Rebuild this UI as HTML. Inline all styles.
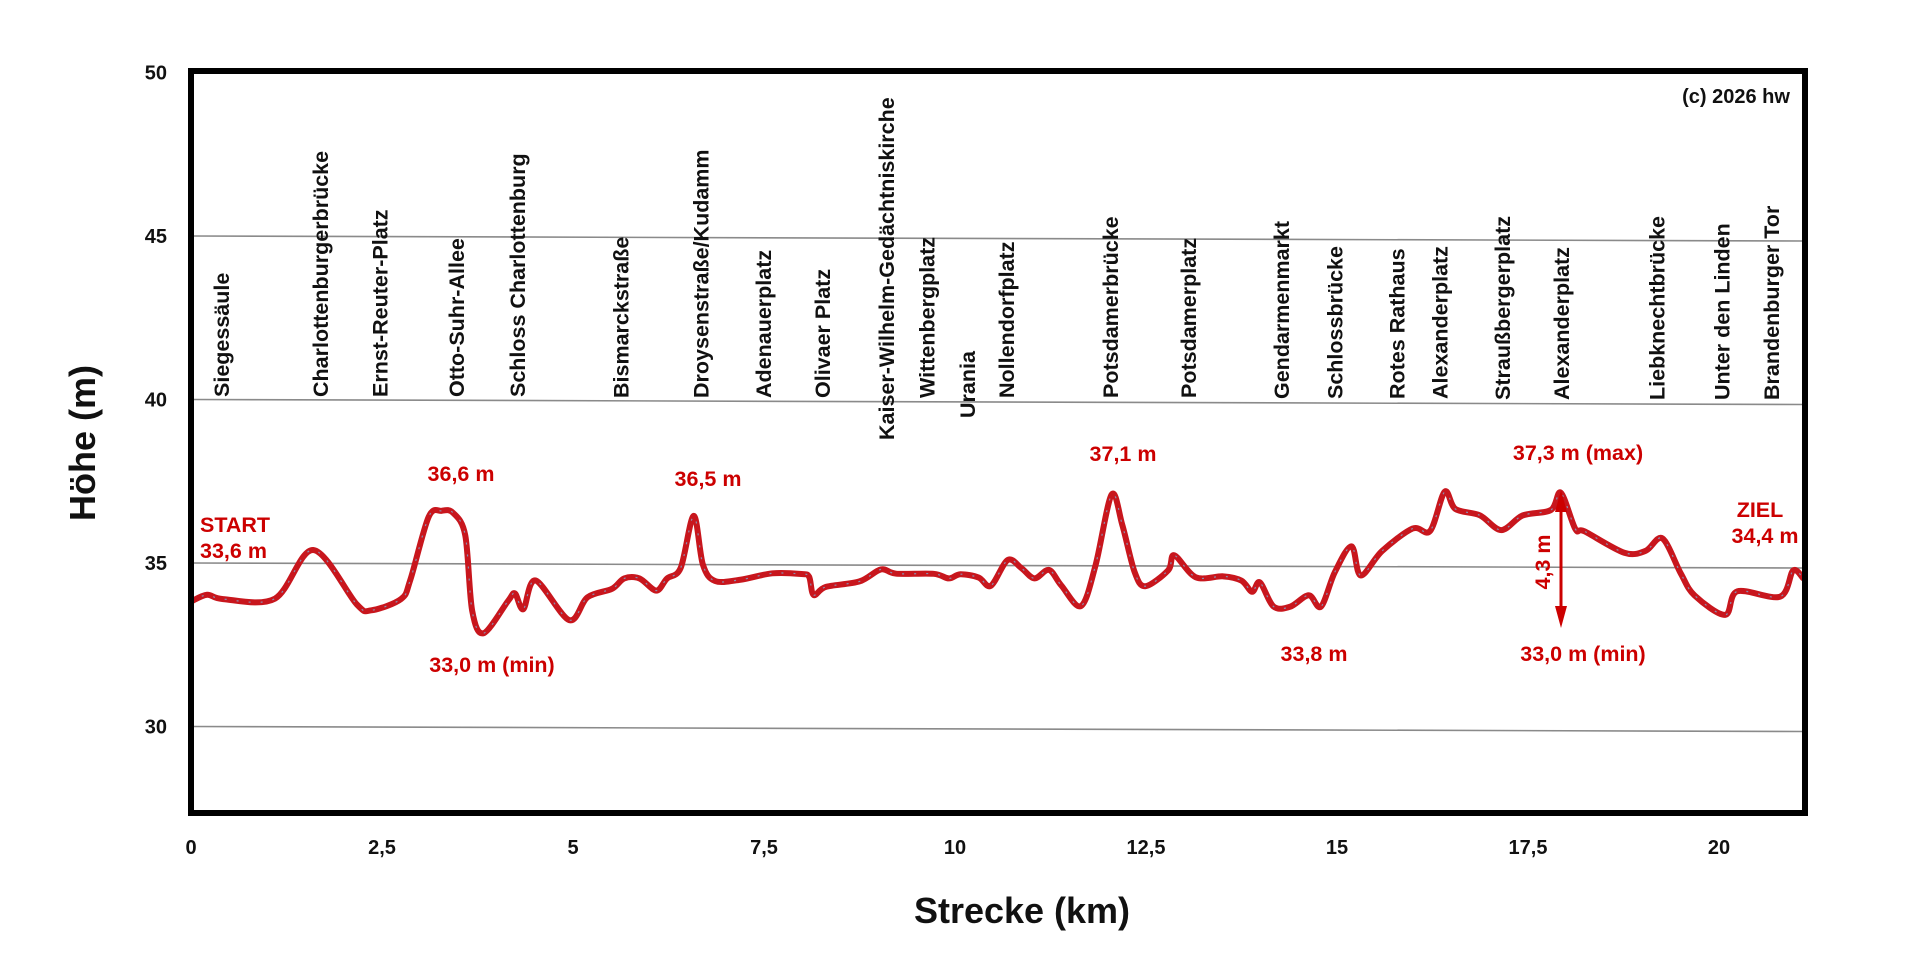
<!DOCTYPE html>
<html><head><meta charset="utf-8">
<style>
html,body{margin:0;padding:0;background:#fff;}
svg{display:block;}
text{font-family:"Liberation Sans",sans-serif;font-weight:bold;}
</style></head>
<body>
<svg id="chart" width="1920" height="975" viewBox="0 0 1920 975" xmlns="http://www.w3.org/2000/svg">
<rect x="0" y="0" width="1920" height="975" fill="#fff"/>
<g id="grid"></g>
<g id="stations"></g>
<g id="series"></g>
<g id="ann"></g>
<rect x="191" y="71" width="1614" height="742" fill="none" stroke="#000" stroke-width="6"/>
<g id="axes"></g>
<text x="1736" y="103" font-size="20" text-anchor="middle" fill="#111">(c) 2026 hw</text>
<text x="0" y="0" font-size="36" text-anchor="middle" fill="#111" transform="translate(95,443) rotate(-90)">Höhe (m)</text>
<text x="1022" y="923" font-size="36" text-anchor="middle" fill="#111">Strecke (km)</text>
</svg>
<script>
const distanceKm = [0,0.21,0.42,1.10,1.60,2.17,2.36,2.75,2.87,3.11,3.28,3.43,3.59,3.68,3.83,4.15,4.24,4.35,4.51,4.95,5.19,5.51,5.67,5.87,6.09,6.23,6.41,6.58,6.70,6.86,7.19,7.61,7.99,8.09,8.15,8.31,8.75,9.03,9.23,9.72,9.92,10.07,10.31,10.47,10.69,10.87,11.04,11.23,11.39,11.65,11.84,12.05,12.19,12.35,12.49,12.79,12.87,13.15,13.51,13.75,13.89,13.99,14.17,14.39,14.63,14.79,14.97,15.19,15.31,15.59,15.99,16.22,16.41,16.55,16.87,17.15,17.43,17.80,17.93,18.12,18.24,18.76,19.04,19.26,19.50,19.68,20.08,20.24,20.80,20.97,21.10];
const elevationM = [33.82,34.03,33.9,33.92,35.41,33.75,33.57,33.92,34.5,36.43,36.62,36.56,35.87,33.57,32.88,33.87,34.1,33.62,34.5,33.29,33.99,34.25,34.57,34.57,34.2,34.57,34.9,36.49,35.0,34.5,34.54,34.74,34.72,34.64,34.08,34.33,34.5,34.87,34.74,34.74,34.6,34.73,34.63,34.38,35.17,34.92,34.61,34.87,34.40,33.77,35.02,37.18,36.25,34.82,34.38,34.87,35.33,34.66,34.69,34.56,34.22,34.51,33.77,33.77,34.12,33.77,34.82,35.62,34.73,35.48,36.17,36.10,37.30,36.77,36.58,36.13,36.58,36.75,37.28,36.17,36.10,35.45,35.51,35.89,34.82,34.15,33.56,34.28,34.12,34.92,34.69];
const yTicks = [50,45,40,35,30];
const yGridValues = [45,40,35,30];
const xTicks = [0,2.5,5,7.5,10,12.5,15,17.5,20];
const xTickLabels = ["0","2,5","5","7,5","10","12,5","15","17,5","20"];
const stationNames = ["Siegessäule","Charlottenburgerbrücke","Ernst-Reuter-Platz","Otto-Suhr-Allee","Schloss Charlottenburg","Bismarckstraße","Droysenstraße/Kudamm","Adenauerplatz","Olivaer Platz","Kaiser-Wilhelm-Gedächtniskirche","Wittenbergplatz","Urania","Nollendorfplatz","Potsdamerbrücke","Potsdamerplatz","Gendarmenmarkt","Schlossbrücke","Rotes Rathaus","Alexanderplatz","Straußbergerplatz","Alexanderplatz","Liebknechtbrücke","Unter den Linden","Brandenburger Tor"];
const stationKm = [0.39,1.69,2.47,3.47,4.27,5.62,6.67,7.49,8.26,9.1,9.63,10.16,10.67,12.03,13.05,14.27,14.97,15.78,16.34,17.16,17.93,19.18,20.03,20.68];
const stationLabelBottom = [397,397,397,397,397,398,398,398,398,440,398,418,398,398,398,399,399,399,399,400,400,400,400,400];

const NS="http://www.w3.org/2000/svg";
const X0=191, PXKM=76.4, Y35=563, PXM=32.7, XR=1805;
function xs(km){return X0+km*PXKM;}
function slant(x){return (x-X0)/(XR-X0)*5;}
function ys(v,x){return Y35-(v-35)*PXM+slant(x);}
function mk(tag,attrs,parent){const e=document.createElementNS(NS,tag);for(const k in attrs)e.setAttribute(k,attrs[k]);parent.appendChild(e);return e;}

const grid=document.getElementById('grid');
yGridValues.forEach(v=>{
  const l=mk('line',{x1:X0,y1:ys(v,X0),x2:XR,y2:ys(v,XR),stroke:'#8a8a8a','stroke-width':1.6},grid);
  
  
});
const axes=document.getElementById('axes');
yTicks.forEach(v=>{
  const t=mk('text',{x:167,y:ys(v,X0)+7,'font-size':20,'text-anchor':'end',fill:'#111'},axes);
  t.textContent=String(v);
  
  
});
xTicks.forEach((k,i)=>{
  const t=mk('text',{x:xs(k),y:854,'font-size':20,'text-anchor':'middle',fill:'#111'},axes);
  t.textContent=xTickLabels[i];
  
  
});
const st=document.getElementById('stations');
stationNames.forEach((n,i)=>{
  const x=xs(stationKm[i])+8, y=stationLabelBottom[i];
  const t=mk('text',{x:0,y:0,'font-size':21.5,fill:'#111',transform:`translate(${x},${y}) rotate(-90)`},st);
  t.textContent=n;
  
  
});
const pts=distanceKm.map((k,i)=>{const x=xs(k);return [x,ys(elevationM[i],x)];});
let d=`M${pts[0][0]},${pts[0][1]}`;
for(let i=0;i<pts.length-1;i++){
  const p0=pts[Math.max(0,i-1)],p1=pts[i],p2=pts[i+1],p3=pts[Math.min(pts.length-1,i+2)];
  const t=0.16;
  const c1=[p1[0]+(p2[0]-p0[0])*t,p1[1]+(p2[1]-p0[1])*t];
  const c2=[p2[0]-(p3[0]-p1[0])*t,p2[1]-(p3[1]-p1[1])*t];
  d+=` C${c1[0]},${c1[1]} ${c2[0]},${c2[1]} ${p2[0]},${p2[1]}`;
}
const ser=document.getElementById('series');
const line=mk('path',{d:d,fill:'none',stroke:'#c8161d','stroke-width':6,'stroke-linejoin':'round','stroke-linecap':'round'},ser);


const inner=mk('path',{d:d,fill:'none',stroke:'#8a8fb0','stroke-width':1.2,'stroke-dasharray':'2 10'},ser);



const ann=document.getElementById('ann');
const red='#cc0000';
const labels=[["START",200,532,"start"],["33,6 m",200,558,"start"],["36,6 m",461,481,"middle"],["33,0 m (min)",492,672,"middle"],["36,5 m",708,486,"middle"],["37,1 m",1123,461,"middle"],["37,3 m (max)",1578,460,"middle"],["33,8 m",1314,661,"middle"],["33,0 m (min)",1583,661,"middle"],["ZIEL",1760,517,"middle"],["34,4 m",1765,543,"middle"]];
labels.forEach(a=>{
  const t=mk('text',{x:a[1],y:a[2],'font-size':21.5,'text-anchor':a[3],fill:red},ann);
  t.textContent=a[0];
  
  
});
const t43=mk('text',{x:0,y:0,'font-size':21.5,'text-anchor':'middle',fill:red,transform:'translate(1550,562) rotate(-90)'},ann);
t43.textContent='4,3 m';


const ar=mk('g',{},ann);


mk('line',{x1:1561,y1:500,x2:1561,y2:615,stroke:red,'stroke-width':3},ar);
mk('polygon',{points:'1561,490 1555,512 1567,512',fill:red},ar);
mk('polygon',{points:'1561,628 1555,606 1567,606',fill:red},ar);
</script>
</body></html>
